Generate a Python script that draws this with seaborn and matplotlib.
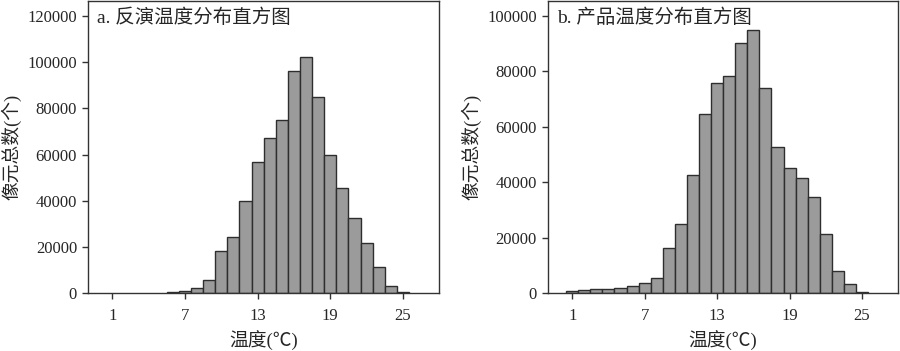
import numpy as np
import pandas as pd
import seaborn as sns
import matplotlib.pyplot as plt

sns.set_style('ticks')
plt.rcParams['font.family'] = ['Liberation Serif', 'Noto Sans CJK SC', 'DejaVu Sans']
plt.rcParams['axes.unicode_minus'] = False

# 反演温度 (a)
temp_a = [6, 7, 8, 9, 10, 11, 12, 13, 14, 15, 16, 17, 18, 19, 20, 21, 22, 23, 24, 25]
count_a = [500, 1000, 2300, 5800, 18200, 24200, 39700, 56700, 67000, 75000,
           96200, 102200, 85000, 59900, 45700, 32500, 21500, 11100, 2900, 450]

# 产品温度 (b)
temp_b = list(range(1, 26))
count_b = [800, 1200, 1300, 1600, 1900, 2500, 3500, 5300, 16200, 25000,
           42700, 64700, 75600, 78100, 90100, 94700, 73800, 52800, 45200, 41600,
           34700, 21400, 7900, 3100, 400]

x_ticks = [1, 7, 13, 19, 25]
titles = ['a. 反演温度分布直方图', 'b. 产品温度分布直方图']

df_a = pd.DataFrame({'temp': temp_a, 'count': count_a})
df_b = pd.DataFrame({'temp': temp_b, 'count': count_b})

fig = plt.figure(figsize=(9, 3.51), dpi=100)
ax1 = fig.add_axes([0.098, 0.165, 0.39, 0.832])
ax2 = fig.add_axes([0.609, 0.165, 0.389, 0.832])

for ax, df, title, ytop, yticks in [
    (ax1, df_a, titles[0], 126500, np.arange(0, 120001, 20000)),
    (ax2, df_b, titles[1], 105300, np.arange(0, 100001, 20000)),
]:
    sns.histplot(data=df, x='temp', weights='count', discrete=True, ax=ax,
                 color='#9b9b9b', edgecolor='#2e2e2e', linewidth=1, alpha=1)
    ax.set_xlim(-1, 28)
    ax.set_ylim(0, ytop)
    ax.set_xticks(x_ticks)
    ax.set_yticks(yticks)
    ax.set_xlabel('温度(℃)', fontsize=13.5, labelpad=5)
    ax.set_ylabel('像元总数(个)', fontsize=13.5, labelpad=4)
    ax.text(0.025, 0.975, title, transform=ax.transAxes, ha='left', va='top', fontsize=14)
    ax.tick_params(direction='out', length=4.5, width=1, labelsize=12, color='#333333')
    ax.tick_params(axis='x', pad=6)
    for s in ax.spines.values():
        s.set_visible(True)
        s.set_color('#333333')
        s.set_linewidth(1)

fig.savefig('out.png', dpi=100)
